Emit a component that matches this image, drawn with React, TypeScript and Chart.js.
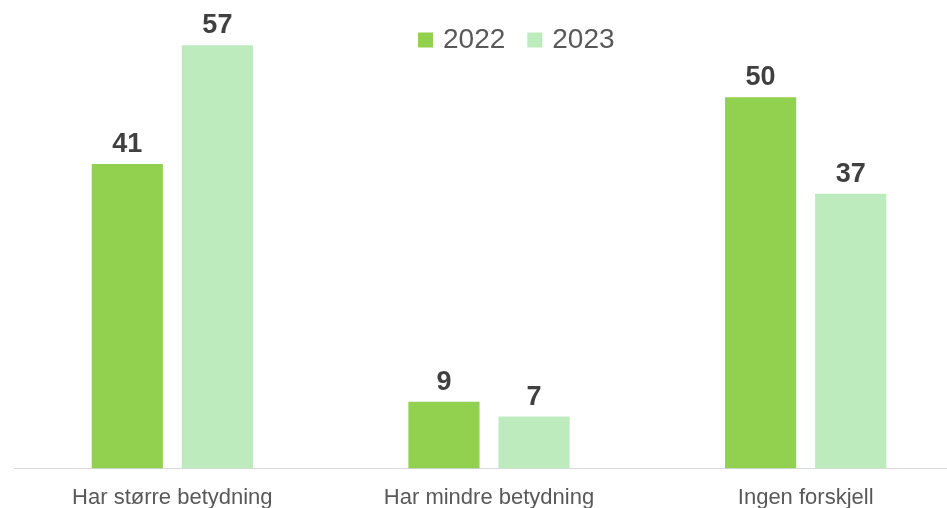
import React, { useEffect, useRef } from "react";
import { Chart, registerables } from "chart.js";

Chart.register(...registerables);

const categories = ["Har større betydning", "Har mindre betydning", "Ingen forskjell"];
const seriesLabels = ["2022", "2023"];
const values2022 = [41, 9, 50];
const values2023 = [57, 7, 37];
const seriesColors = ["#92D050", "#BDEBBD"];

const valueLabelPlugin = {
  id: "valueLabels",
  afterDatasetsDraw(chart: any) {
    const ctx = chart.ctx;
    ctx.save();
    ctx.font = "bold 27px 'Liberation Sans', Arial, sans-serif";
    ctx.fillStyle = "#404040";
    ctx.textAlign = "center";
    ctx.textBaseline = "alphabetic";
    chart.data.datasets.forEach((ds: any, i: number) => {
      const meta = chart.getDatasetMeta(i);
      meta.data.forEach((bar: any, j: number) => {
        ctx.fillText(String(ds.data[j]), bar.x, bar.y - 12);
      });
    });
    ctx.restore();
  },
};

const legendPlugin = {
  id: "customLegend",
  afterDraw(chart: any) {
    const ctx = chart.ctx;
    ctx.save();
    ctx.font = "28px 'Liberation Sans', Arial, sans-serif";
    ctx.textBaseline = "middle";
    ctx.textAlign = "left";
    let x = 418;
    const cy = 40;
    chart.data.datasets.forEach((ds: any) => {
      ctx.fillStyle = ds.backgroundColor;
      ctx.fillRect(x, cy - 7.5, 15, 15);
      x += 25;
      ctx.fillStyle = "#595959";
      ctx.fillText(ds.label, x, cy);
      x += ctx.measureText(ds.label).width + 22;
    });
    ctx.restore();
  },
};

export default function App() {
  const ref = useRef<HTMLCanvasElement>(null);

  useEffect(() => {
    if (!ref.current) return;
    const chart = new Chart(ref.current, {
      type: "bar",
      data: {
        labels: categories,
        datasets: [
          { label: seriesLabels[0], data: values2022, backgroundColor: seriesColors[0] },
          { label: seriesLabels[1], data: values2023, backgroundColor: seriesColors[1] },
        ],
      },
      options: {
        responsive: false,
        animation: false,
        layout: { padding: { left: 14, right: 0, top: 23, bottom: 0 } },
        datasets: {
          bar: { categoryPercentage: 0.569, barPercentage: 0.79 },
        },
        plugins: {
          legend: { display: false },
          tooltip: { enabled: false },
        },
        scales: {
          x: {
            grid: { display: false, drawTicks: false },
            border: { display: true, color: "#D9D9D9", width: 1 },
            ticks: {
              padding: 16,
              color: "#595959",
              font: { family: "'Liberation Sans', Arial, sans-serif", size: 22 },
            },
          },
          y: {
            display: false,
            min: 0,
            max: 60,
          },
        },
      },
      plugins: [valueLabelPlugin, legendPlugin],
    });
    return () => chart.destroy();
  }, []);

  return (
    <div style={{ position: "fixed", left: 0, top: 0, width: 964, height: 508, overflow: "hidden", background: "#fff" }}>
      <canvas ref={ref} width={964} height={527} style={{ display: "block" }} />
    </div>
  );
}
